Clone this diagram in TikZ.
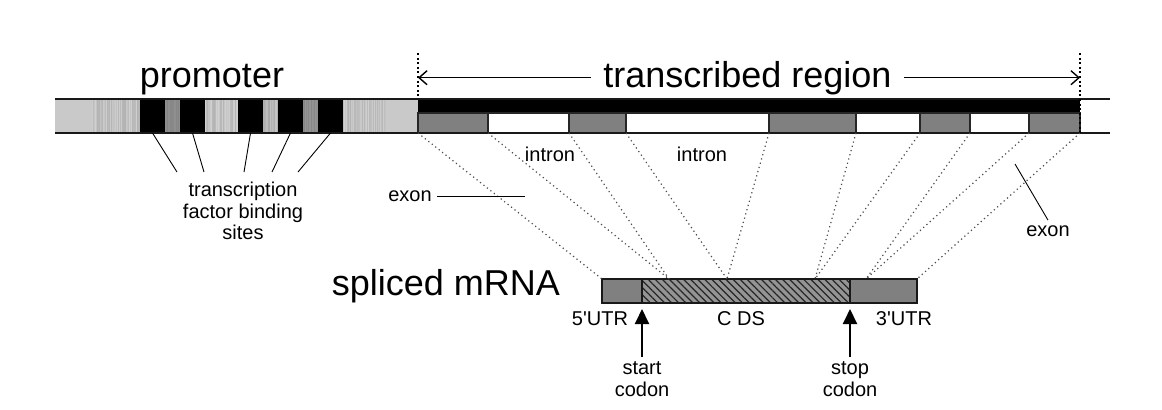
\documentclass[tikz,border=0pt]{standalone}
\usepackage{fontspec}
\setmainfont{Liberation Sans}
\usetikzlibrary{arrows.meta,patterns.meta}
\definecolor{exgray}{gray}{0.50}
\definecolor{lightband}{gray}{0.79}
\newcommand\prmstripes[4]{%
  \foreach \x in {#1,...,#2} {%
    \pgfmathsetmacro\lv{#3+#4*rnd}%
    \definecolor{stc}{gray}{\lv}%
    \fill[stc] (\x,99) rectangle ++(1.05,34);
  }}
\begin{document}
\begin{tikzpicture}[x=0.5pt,y=-0.5pt,
  big/.style={font=\fontsize{18}{21}\selectfont, inner sep=0pt},
  small/.style={font=\fontsize{10}{10.8}\selectfont, inner sep=0pt, align=center},
  proj/.style={line width=0.6pt, dash pattern=on 0.6pt off 1.6pt, black!70},
  vdots/.style={line width=1pt, dash pattern=on 1pt off 1.3pt},
  bsite/.style={fill=black, inner sep=0pt, outer sep=0pt, minimum width=12.5pt, minimum height=17pt},
  exonbox/.style={fill=exgray, draw=black!85, line width=0.8pt, inner sep=0pt, outer sep=0pt, minimum height=10pt},
  intronbox/.style={fill=white, draw=black!85, line width=0.8pt, inner sep=0pt, outer sep=0pt, minimum height=10pt},
  mbox/.style={draw=black!90, line width=0.9pt, inner sep=0pt, outer sep=0pt, minimum height=12pt},
  leader/.style={line width=0.45pt},
  regarrow/.style={line width=0.7pt, -{Straight Barb[length=4pt,width=7pt]}},
  codonarrow/.style={line width=1pt, -{Triangle[length=7.5pt,width=7pt]}, shorten >=3pt},
]
\useasboundingbox (0,0) rectangle (1162,409);

% ---------- promoter band ----------
\fill[lightband] (55,99) rectangle (418,133);
\pgfmathsetseed{17}
\prmstripes{92}{139}{0.70}{0.12}
\prmstripes{165}{179}{0.52}{0.05}
\prmstripes{205}{237}{0.70}{0.12}
\prmstripes{263}{277}{0.66}{0.12}
\prmstripes{303}{317}{0.52}{0.07}
\prmstripes{343}{385}{0.70}{0.12}
\node[bsite] (b1) at (152.5,116) {};
\node[bsite] (b2) at (192.5,116) {};
\node[bsite] (b3) at (250.5,116) {};
\node[bsite] (b4) at (290.5,116) {};
\node[bsite] (b5) at (330.5,116) {};

% ---------- transcribed region ----------
\fill[black] (418,99) rectangle (1080,113);
\node[exonbox, minimum width=35pt]   (e1) at (453,123) {};
\node[intronbox, minimum width=40.5pt] (i1) at (528.5,123) {};
\node[exonbox, minimum width=28.5pt] (e2) at (597.5,123) {};
\node[intronbox, minimum width=71.5pt] (i2) at (697.5,123) {};
\node[exonbox, minimum width=43.5pt] (e3) at (812.5,123) {};
\node[intronbox, minimum width=32pt] (i3) at (888,123) {};
\node[exonbox, minimum width=25pt]   (e4) at (945,123) {};
\node[intronbox, minimum width=29.5pt] (i4) at (999.5,123) {};
\node[exonbox, minimum width=25.5pt] (e5) at (1054.5,123) {};

% band outline
\coordinate (bandTL) at (55,99);
\coordinate (bandTR) at (1110,99);
\coordinate (bandBL) at (55,133);
\coordinate (bandBR) at (1110,133);
\draw[line width=1pt, black!90] (bandTL) -- (bandTR);
\draw[line width=1pt, black!90] (bandBL) -- (bandBR);

% vertical dotted markers
\coordinate (vlTop) at (418,53);
\coordinate (vlBot) at (418,98);
\coordinate (vrTop) at (1080,53);
\coordinate (vrBot) at (1080,134);
\draw[vdots] (vlTop) -- (vlBot);
\draw[vdots] (vrTop) -- (vrBot);

% titles
\node[big, anchor=base] (prom) at (212,87) {promoter};
\node[big, anchor=base, inner xsep=6pt] (tr) at (747.5,87) {transcribed region};
\draw[regarrow] (tr.west) -- (tr.west -| vlTop);
\draw[regarrow] (tr.east) -- (tr.east -| vrTop);

% binding site labels
\node[small] (tfbs) at (243,211) {transcription\\factor binding\\sites};
\coordinate (t1) at (177,172);
\coordinate (t2) at (204,172);
\coordinate (t3) at (244,172);
\coordinate (t4) at (272,172);
\coordinate (t5) at (298,172);
\draw[leader] (b1.south) -- (t1);
\draw[leader] (b2.south) -- (t2);
\draw[leader] (b3.south) -- (t3);
\draw[leader] (b4.south) -- (t4);
\draw[leader] (b5.south) -- (t5);

% ---------- spliced mRNA ----------
\node[big, anchor=base] (smrna) at (446,295) {spliced mRNA};
\node[mbox, fill=exgray, minimum width=20pt] (u5) at (622,291) {};
\node[mbox, preaction={fill=black!42}, pattern={Lines[angle=-45,distance=2.5pt,line width=0.6pt]}, pattern color=black!85, minimum width=104pt] (cds) at (746,291) {};
\node[mbox, fill=exgray, minimum width=33.5pt] (u3) at (883.5,291) {};

\coordinate (j1) at (669,279);
\coordinate (j2) at (727,279);
\coordinate (j3) at (815,279);
\coordinate (j4) at (866,279);

% projection lines
\draw[proj] (e1.south west) -- (u5.north west);
\draw[proj] (e1.south east) -- (j1);
\draw[proj] (e2.south west) -- (j1);
\draw[proj] (e2.south east) -- (j2);
\draw[proj] (e3.south west) -- (j2);
\draw[proj] (e3.south east) -- (j3);
\draw[proj] (e4.south west) -- (j3);
\draw[proj] (e4.south east) -- (j4);
\draw[proj] (e5.south west) -- (j4);
\draw[proj] (e5.south east) -- (u3.north east);

% exon / intron labels
\node[small, inner xsep=2.5pt] (exonL) at (410,196) {exon};
\coordinate (exonLend) at (525,196);
\draw[leader] (exonL.east) -- (exonLend);
\node[small] (intron1) at (550,154) {intron};
\node[small] (intron2) at (702,154) {intron};
\node[small, inner sep=2.5pt] (exonR) at (1048,231) {exon};
\coordinate (exonRstart) at (1015,164);
\draw[leader] (exonRstart) -- (exonR.north);

% mRNA part labels
\node[small] (l5) at (600,319) {5\textquotesingle UTR};
\node[small] (lcds) at (741,319) {C DS};
\node[small] (l3) at (904,319) {3\textquotesingle UTR};

% codons
\node[small, inner ysep=2pt] (startc) at (642,379) {start\\codon};
\node[small, inner ysep=2pt] (stopc) at (850,379) {stop\\codon};
\draw[codonarrow] (startc.north) -- (cds.south west);
\draw[codonarrow] (stopc.north) -- (cds.south east);
\end{tikzpicture}
\end{document}
